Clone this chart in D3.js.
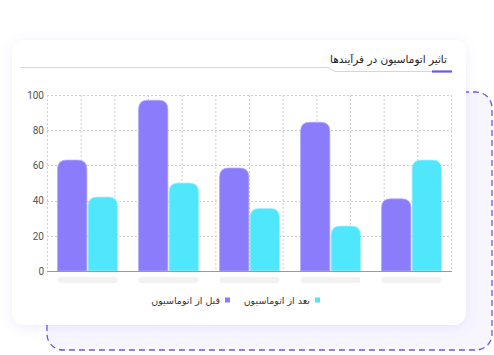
<!DOCTYPE html>
<html>
<head>
<meta charset="utf-8">
<script src="https://cdn.jsdelivr.net/npm/d3@7"></script>
<style>
  body { margin: 0; background: #fff; }
  svg { display: block; }
  .tick text { font-family: Roboto, "DejaVu Sans", sans-serif; font-size: 10px; fill: #555; }
  .fa { font-family: "DejaVu Sans", sans-serif; direction: rtl; }
</style>
</head>
<body>
<script>
const categories = ["p1", "p2", "p3", "p4", "p5"],
    seriesNames = ["قبل از اتوماسیون", "بعد از اتوماسیون"],
    before = [63, 97, 58.5, 84.5, 41],
    after = [42, 50, 35.5, 25.5, 63],
    yTicks = [0, 20, 40, 60, 80, 100],
    title = "تاثیر اتوماسیون در فرآیندها";

const colors = ["#8a7cfb", "#50e6fc"],
    strokes = ["#b3a9ff", "#9af0fd"];

const W = 494, H = 355,
    plot = {left: 47, right: 452, top: 95, bottom: 271};

const svg = d3.select("body").append("svg").attr("width", W).attr("height", H);
const defs = svg.append("defs");

const shadow = defs.append("filter").attr("id", "shadow")
    .attr("x", "-10%").attr("y", "-10%").attr("width", "120%").attr("height", "120%");
shadow.append("feDropShadow").attr("dx", 0).attr("dy", 2).attr("stdDeviation", 6)
    .attr("flood-color", "#7a6cf0").attr("flood-opacity", 0.14);

// dashed back panel
svg.append("rect")
    .attr("x", 47).attr("y", 92).attr("width", 445).attr("height", 258)
    .attr("rx", 16)
    .attr("fill", "#f7f6ff")
    .attr("stroke", "#6a5ae0").attr("stroke-width", 1.3)
    .attr("stroke-dasharray", "6,4");

// card
svg.append("rect")
    .attr("x", 12).attr("y", 40).attr("width", 454).attr("height", 285)
    .attr("rx", 12)
    .attr("fill", "#fff")
    .attr("filter", "url(#shadow)");

// title
svg.append("text").attr("class", "fa")
    .attr("x", 447).attr("y", 63)
    .attr("text-anchor", "start")
    .attr("font-size", 10.5).attr("fill", "#222")
    .text(title);

svg.append("path")
    .attr("d", "M20,67.5 H328 L335,71.5 H432")
    .attr("fill", "none").attr("stroke", "#d6d6d6").attr("stroke-width", 1);
svg.append("line")
    .attr("x1", 432).attr("x2", 452).attr("y1", 71.5).attr("y2", 71.5)
    .attr("stroke", "#6a5ae0").attr("stroke-width", 2.2);

// scales
const y = d3.scaleLinear().domain([0, 100]).range([plot.bottom, plot.top]);
const x = d3.scaleBand().domain(categories).range([plot.left, plot.right]).paddingInner(0.26).paddingOuter(0.13);
const xs = d3.scaleBand().domain([0, 1]).range([0, x.bandwidth()]).paddingInner(0.04);

const g = svg.append("g");

// grid
const vGrid = d3.scaleLinear().domain([0, 12]).range([plot.left, plot.right - 1]);
g.append("g").selectAll("line").data(d3.range(13)).join("line")
    .attr("x1", d => vGrid(d) + 0.5).attr("x2", d => vGrid(d) + 0.5)
    .attr("y1", plot.top).attr("y2", plot.bottom)
    .attr("stroke", "#cfcfcf").attr("stroke-dasharray", "2,2");

g.append("g").selectAll("line").data(yTicks.slice(1)).join("line")
    .attr("x1", plot.left).attr("x2", plot.right)
    .attr("y1", d => Math.round(y(d)) + 0.5).attr("y2", d => Math.round(y(d)) + 0.5)
    .attr("stroke", "#cfcfcf").attr("stroke-dasharray", "2,2");

// y axis
const yAxis = d3.axisLeft(y).tickValues(yTicks).tickSize(0).tickPadding(3);
g.append("g")
    .attr("transform", "translate(" + plot.left + ",0)")
    .call(yAxis)
    .call(a => a.select(".domain").remove());

// bars
function topRounded(x0, y0, w, h, r) {
    r = Math.min(r, h, w / 2);
    return "M" + x0 + "," + (y0 + h) +
        "V" + (y0 + r) +
        "Q" + x0 + "," + y0 + " " + (x0 + r) + "," + y0 +
        "H" + (x0 + w - r) +
        "Q" + (x0 + w) + "," + y0 + " " + (x0 + w) + "," + (y0 + r) +
        "V" + (y0 + h) + "Z";
}

const series = [before, after];
series.forEach((vals, s) => {
    g.append("g").selectAll("path").data(vals).join("path")
        .attr("d", (d, i) => topRounded(x(categories[i]) + xs(s), y(d), xs.bandwidth(), y(0) - y(d), 9))
        .attr("fill", colors[s])
        .attr("stroke", strokes[s]).attr("stroke-width", 0.8);
});

// x axis line
g.append("line")
    .attr("x1", plot.left).attr("x2", plot.right)
    .attr("y1", plot.bottom + 0.5).attr("y2", plot.bottom + 0.5)
    .attr("stroke", "#9a9a9a").attr("stroke-width", 1);

// placeholder labels
g.append("g").selectAll("rect").data(categories).join("rect")
    .attr("x", d => x(d)).attr("y", 277)
    .attr("width", x.bandwidth()).attr("height", 6)
    .attr("rx", 3)
    .attr("fill", "#f2f2f2");

// legend (rtl)
const legendItems = [
    {name: seriesNames[1], color: colors[1], right: 320},
    {name: seriesNames[0], color: colors[0], right: 230}
];
const lg = svg.append("g");
legendItems.forEach(it => {
    lg.append("rect")
        .attr("x", it.right - 5).attr("y", 297.5)
        .attr("width", 5).attr("height", 5)
        .attr("fill", it.color);
    lg.append("text").attr("class", "fa")
        .attr("x", it.right - 10).attr("y", 303.5)
        .attr("text-anchor", "start")
        .attr("font-size", 9.5).attr("fill", "#333")
        .text(it.name);
});
</script>
</body>
</html>
